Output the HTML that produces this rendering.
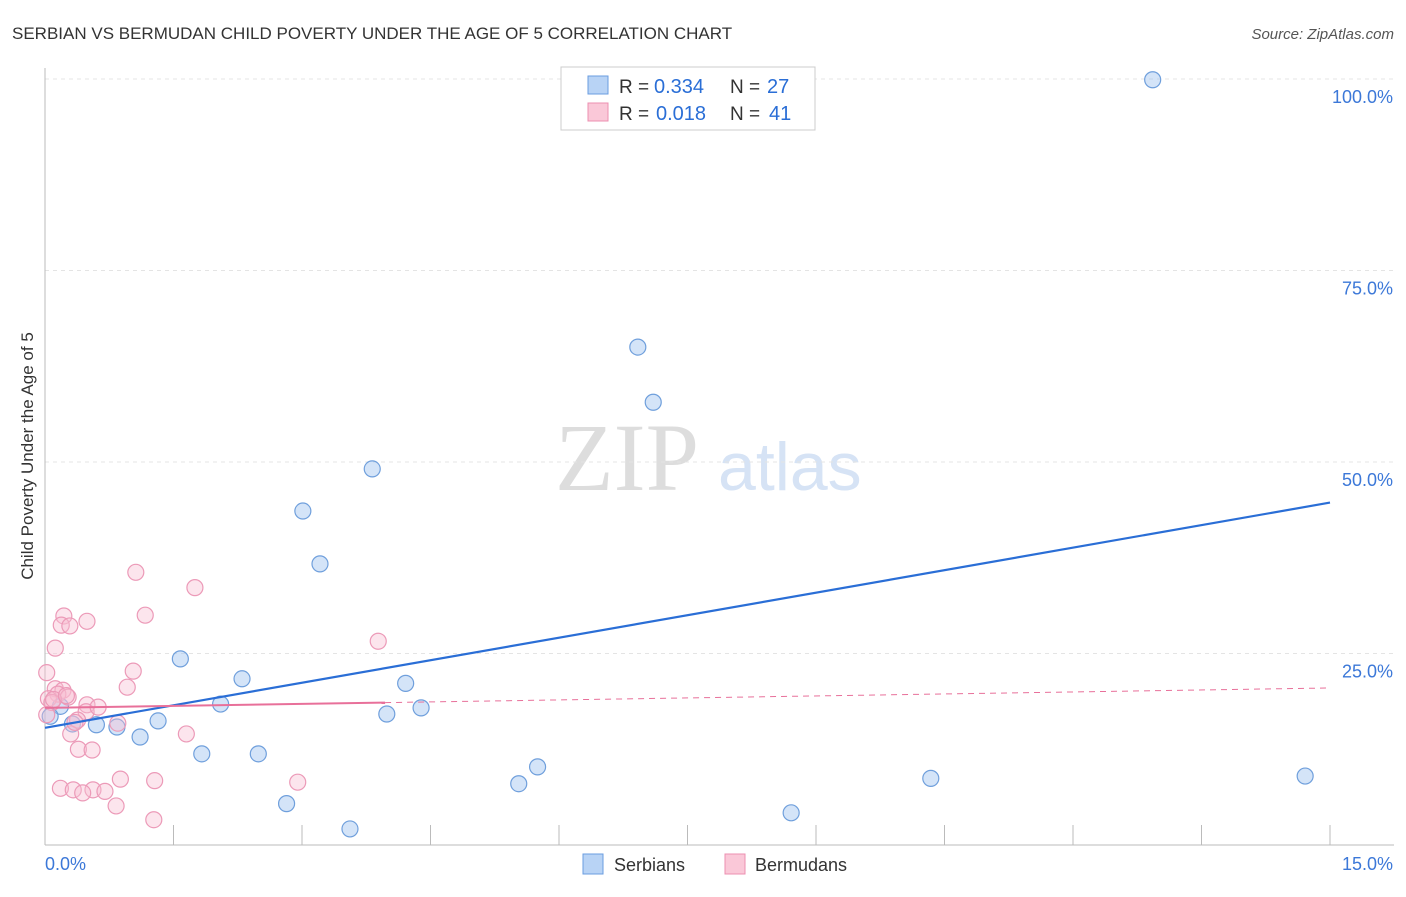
<!DOCTYPE html>
<html><head><meta charset="utf-8"><style>
body{margin:0;background:#fff;font-family:"Liberation Sans",sans-serif;}
</style></head><body>
<svg id="chart" width="1406" height="892" xmlns="http://www.w3.org/2000/svg" font-family="Liberation Sans, sans-serif">
<text x="12" y="39" font-size="17" fill="#333">SERBIAN VS BERMUDAN CHILD POVERTY UNDER THE AGE OF 5 CORRELATION CHART</text>
<text x="1394" y="39" font-size="15" fill="#555" font-style="italic" text-anchor="end">Source: ZipAtlas.com</text>
<text transform="translate(33,456) rotate(-90)" font-size="17" fill="#333" text-anchor="middle">Child Poverty Under the Age of 5</text>
<text x="555" y="490" font-size="96" fill="#ddd" font-family="Liberation Serif, serif">ZIP</text>
<text x="718" y="490" font-size="68" fill="#d6e3f5">atlas</text>
<g id="grid"></g><g id="axes"></g><g id="marks"></g>
<g>
<rect x="561" y="67" width="254" height="63" fill="#fff" stroke="#ccc"/>
<rect x="588" y="76" width="20" height="18" fill="#b8d3f5" stroke="#6a9de0"/>
<rect x="588" y="103" width="20" height="18" fill="#fac8d8" stroke="#ec8fb0"/>
<text x="619" y="93" font-size="19" fill="#333">R =</text>
<text x="654" y="93" font-size="20" fill="#2a6ed6">0.334</text>
<text x="730" y="93" font-size="19" fill="#333">N =</text>
<text x="767" y="93" font-size="20" fill="#2a6ed6">27</text>
<text x="619" y="120" font-size="19" fill="#333">R =</text>
<text x="656" y="120" font-size="20" fill="#2a6ed6">0.018</text>
<text x="730" y="120" font-size="19" fill="#333">N =</text>
<text x="769" y="120" font-size="20" fill="#2a6ed6">41</text>
</g>
<g>
<rect x="583" y="854" width="20" height="20" fill="#b8d3f5" stroke="#6a9de0"/>
<text x="614" y="871" font-size="18" fill="#333">Serbians</text>
<rect x="725" y="854" width="20" height="20" fill="#fac8d8" stroke="#ec8fb0"/>
<text x="755" y="871" font-size="18" fill="#333">Bermudans</text>
</g>
</svg>
<script>
const xTicks=[0,1.5,3,4.5,6,7.5,9,10.5,12,13.5,15];
const yTicks=[25,50,75,100];
const serbX=[12.93,6.92,7.10,3.82,3.01,3.21,1.58,2.30,4.21,2.05,4.39,3.99,1.32,0.84,0.60,0.32,1.11,0.18,0.06,1.83,2.49,5.75,5.53,10.34,14.71,2.82,3.56,8.71];
const serbY=[99.9,65.0,57.8,49.1,43.6,36.7,24.3,21.7,21.1,18.4,17.9,17.1,16.2,15.4,15.7,15.8,14.1,18.1,16.8,11.9,11.9,10.2,8.0,8.7,9.0,5.4,2.1,4.2];
const bermX=[1.06,1.75,0.22,1.17,0.49,0.19,0.29,3.89,0.12,0.02,1.03,0.96,0.12,0.21,0.15,0.27,0.04,0.49,0.08,0.48,0.85,0.38,1.65,0.30,0.39,0.55,0.88,1.28,2.95,0.18,0.33,0.56,0.70,0.44,0.83,1.27,0.02,0.35,0.10,0.62,0.25];
const bermY=[35.6,33.6,29.9,30.0,29.2,28.7,28.6,26.6,25.7,22.5,22.7,20.6,20.4,20.2,19.7,19.3,19.1,18.3,18.6,17.4,15.9,16.3,14.5,14.5,12.5,12.4,8.6,8.4,8.2,7.4,7.2,7.2,7.0,6.8,5.1,3.3,17.0,16.0,19.0,18.0,19.5];
const serbTrend=[15.3,44.7], bermTrend=[17.9,20.5];
const X=v=>45+v*(1330-45)/15, Y=v=>845-v*(845-79)/100;
const NS="http://www.w3.org/2000/svg";
function mk(p,t,a){const e=document.createElementNS(NS,t);for(const k in a)e.setAttribute(k,a[k]);document.getElementById(p).appendChild(e);return e;}
yTicks.forEach(t=>{const l=mk('grid','line',{x1:45,x2:1394,y1:Y(t),y2:Y(t),stroke:'#e4e4e4','stroke-dasharray':'4,4'});


const tx=mk('grid','text',{x:1393,y:Y(t)+24,'font-size':18,fill:'#3c78d8','text-anchor':'end'});tx.textContent=t.toFixed(1)+'%';

});
mk('axes','line',{x1:45,x2:45,y1:68,y2:845,stroke:'#bbb'});
mk('axes','line',{x1:45,x2:1394,y1:845,y2:845,stroke:'#bbb'});
xTicks.forEach(t=>{const l=mk('axes','line',{x1:X(t),x2:X(t),y1:825,y2:845,stroke:'#bbb'});

});
const x0=mk('axes','text',{x:45,y:870,'font-size':18,fill:'#3c78d8'});x0.textContent=xTicks[0].toFixed(1)+'%';


const x1=mk('axes','text',{x:1393,y:870,'font-size':18,fill:'#3c78d8','text-anchor':'end'});x1.textContent=xTicks[xTicks.length-1].toFixed(1)+'%';


serbX.forEach((v,i)=>{const c=mk('marks','circle',{cx:X(v),cy:Y(serbY[i]),r:8,fill:'rgba(160,196,240,0.45)',stroke:'#6f9fdc','stroke-width':1.2});

});
bermX.forEach((v,i)=>{const c=mk('marks','circle',{cx:X(v),cy:Y(bermY[i]),r:8,fill:'rgba(248,190,210,0.4)',stroke:'#ec9ab8','stroke-width':1.2});

});
const bl=mk('marks','line',{x1:X(0),y1:Y(serbTrend[0]),x2:X(15),y2:Y(serbTrend[1]),stroke:'#2a6ed6','stroke-width':2.2});


const bm=v=>bermTrend[0]+(bermTrend[1]-bermTrend[0])*v/15;
const pl=mk('marks','line',{x1:X(0),y1:Y(bm(0)),x2:X(3.97),y2:Y(bm(3.97)),stroke:'#e8709a','stroke-width':2});


const pd=mk('marks','line',{x1:X(3.97),y1:Y(bm(3.97)),x2:X(15),y2:Y(bm(15)),stroke:'#e8709a','stroke-width':1,'stroke-dasharray':'6,5'});


</script>
</body></html>
